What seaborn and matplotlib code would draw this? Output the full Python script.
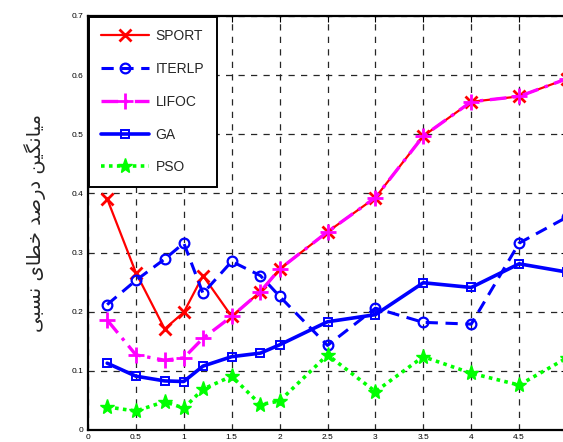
import seaborn as sns
import matplotlib.pyplot as plt
import pandas as pd

# data
x = [0.2, 0.5, 0.8, 1.0, 1.2, 1.5, 1.8, 2.0, 2.5, 3.0, 3.5, 4.0, 4.5, 5.0]
sport = [0.391, 0.266, 0.171, 0.199, 0.261, 0.192, 0.234, 0.272, 0.335, 0.393, 0.497, 0.555, 0.564, 0.594]
iterlp = [0.212, 0.253, 0.289, 0.316, 0.231, 0.285, 0.261, 0.226, 0.143, 0.206, 0.182, 0.179, 0.316, 0.360]
lifoc = [0.186, 0.127, 0.118, 0.122, 0.155, 0.192, 0.234, 0.272, 0.335, 0.393, 0.497, 0.555, 0.564, 0.594]
ga = [0.113, 0.091, 0.083, 0.082, 0.108, 0.124, 0.130, 0.144, 0.183, 0.195, 0.249, 0.241, 0.281, 0.267]
pso = [0.039, 0.032, 0.048, 0.037, 0.069, 0.091, 0.043, 0.049, 0.127, 0.065, 0.124, 0.096, 0.076, 0.122]

xticks = [0, 0.5, 1, 1.5, 2, 2.5, 3, 3.5, 4, 4.5]
xticklabels = ["0", "0.5", "1", "1.5", "2", "2.5", "3", "3.5", "4", "4.5"]
yticks = [0, 0.1, 0.2, 0.3, 0.4, 0.5, 0.6, 0.7]
yticklabels = ["0", "0.1", "0.2", "0.3", "0.4", "0.5", "0.6", "0.7"]

# "میانگین درصد خطای نسبی" in shaped presentation forms, visual (LTR) order
ylabel_text = "".join(chr(c) for c in [
    0xFBFD, 0xFE92, 0xFEB4, 0xFEE7, 0x20,
    0xFBFC, 0xFE8E, 0xFEC4, 0xFEA7, 0x20,
    0xFEAA, 0xFEBB, 0xFEAD, 0xFEA9, 0x20,
    0xFEE6, 0xFBFF, 0xFB95, 0xFEE7, 0xFE8E, 0xFBFF, 0xFEE3,
])

df = pd.DataFrame({"x": x, "SPORT": sport, "ITERLP": iterlp, "LIFOC": lifoc, "GA": ga, "PSO": pso})

sns.set_style("white")
narrow = ["Liberation Sans Narrow", "Liberation Sans", "DejaVu Sans"]

fig = plt.figure(figsize=(5.63, 4.42), dpi=100)
ax = fig.add_axes([88 / 563, 12 / 442, 479 / 563, 414 / 442])

styles = [
    ("SPORT", dict(color="#FF0000", linestyle="-", linewidth=1.6, marker="x", markersize=8,
                   markeredgewidth=2, markeredgecolor="#FF0000", markerfacecolor="#FF0000")),
    ("ITERLP", dict(color="#0000FF", linestyle=(0, (4, 2.5)), linewidth=2.2, marker="o", markersize=7,
                    markeredgewidth=1.6, markeredgecolor="#0000FF", markerfacecolor="none")),
    ("LIFOC", dict(color="#FF00FF", linestyle=(0, (5, 2, 1, 2)), linewidth=2.4, marker="+", markersize=11,
                   markeredgewidth=2, markeredgecolor="#FF00FF", markerfacecolor="#FF00FF")),
    ("GA", dict(color="#0000FF", linestyle="-", linewidth=2.6, marker="s", markersize=6,
                markeredgewidth=1.4, markeredgecolor="#0000FF", markerfacecolor="none")),
    ("PSO", dict(color="#00FF00", linestyle=(0, (1, 1.2)), linewidth=2.6, marker="*", markersize=11,
                 markeredgewidth=1, markeredgecolor="#00FF00", markerfacecolor="#00FF00")),
]
for name, kw in styles:
    sns.lineplot(data=df, x="x", y=name, ax=ax, label=name, **kw)

ax.set_xlim(0, 5)
ax.set_ylim(0, 0.7)
ax.set_xticks(xticks)
ax.set_xticklabels(xticklabels)
ax.set_yticks(yticks)
ax.set_yticklabels(yticklabels)
ax.grid(True, color="0.15", linestyle=(0, (5, 5)), linewidth=0.9)
ax.tick_params(direction="in", length=4, width=0.8, top=True, right=True,
               labelsize=6, pad=3, colors="black")
for lab in ax.get_xticklabels() + ax.get_yticklabels():
    lab.set_family(narrow)
for sp in ax.spines.values():
    sp.set_color("black")
    sp.set_linewidth(1.6)

ax.set_xlabel("")
ax.set_ylabel(ylabel_text, family=["DejaVu Sans"], fontsize=14, labelpad=19)

leg = ax.legend(loc="upper left", bbox_to_anchor=(0.002, 0.998), borderaxespad=0,
                frameon=True, fancybox=False, edgecolor="black", framealpha=1,
                prop={"family": narrow, "size": 10}, handlelength=3.4,
                handletextpad=0.5, labelspacing=1.35, borderpad=0.9, numpoints=1)
leg.get_frame().set_linewidth(1.4)

fig.savefig("out.png", dpi=100)
